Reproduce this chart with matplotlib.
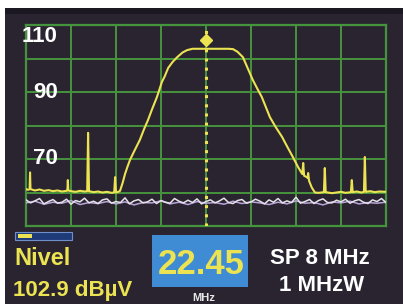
import matplotlib
matplotlib.use("Agg")
import matplotlib.pyplot as plt
from matplotlib.patches import Rectangle

# ---------------- data ----------------
span_mhz = 8
center_label = "22.45"
level_label = "102.9 dBµV"
y_tick_values = [110, 90, 70]

# yellow (measured) trace: frequency offset from centre (MHz) and level (dBµV)
yellow_f = [-4.00, -3.95, -3.92, -3.91, -3.90, -3.80, -3.70, -3.60, -3.50, -3.40,
            -3.30, -3.20, -3.10, -3.08, -3.07, -3.06, -3.00, -2.90, -2.80, -2.70,
            -2.64, -2.62, -2.60, -2.50, -2.40, -2.30, -2.20, -2.10, -2.04, -2.02,
            -2.00, -1.95, -1.91, -1.85, -1.80, -1.75, -1.69, -1.60, -1.47, -1.38,
            -1.29, -1.20, -1.09, -0.98, -0.92, -0.84, -0.74, -0.64, -0.52, -0.42,
            -0.30, 0.00, 0.50, 0.60, 0.70, 0.82, 0.93, 1.04, 1.14, 1.24,
            1.33, 1.42, 1.55, 1.69, 1.80, 1.93, 2.05, 2.14, 2.16, 2.18,
            2.24, 2.26, 2.27, 2.29, 2.35, 2.42, 2.50, 2.62, 2.64, 2.66,
            2.80, 2.90, 3.00, 3.10, 3.22, 3.24, 3.26, 3.35, 3.45, 3.51,
            3.53, 3.55, 3.65, 3.75, 3.85, 4.00]
yellow_l = [61.0, 60.8, 61.0, 66.0, 61.0, 60.6, 60.9, 60.5, 60.7, 60.4,
            60.6, 60.3, 60.5, 60.6, 63.7, 60.6, 60.4, 60.2, 60.5, 60.3,
            60.4, 77.8, 60.4, 60.1, 60.3, 60.0, 60.2, 59.9, 60.0, 64.6,
            60.0, 60.2, 60.5, 63.0, 65.5, 67.5, 69.7, 72.2, 75.7, 78.8,
            81.6, 84.8, 88.5, 93.0, 94.6, 97.2, 99.0, 100.4, 101.8, 102.5,
            102.9, 102.9, 102.9, 102.8, 102.0, 100.4, 97.0, 93.6, 91.0, 88.5,
            85.5, 82.5, 79.5, 76.6, 73.8, 70.6, 67.5, 65.5, 68.8, 65.0,
            64.6, 64.3, 65.8, 63.5, 61.5, 60.0, 59.9, 60.1, 67.3, 60.1,
            59.8, 60.0, 60.2, 59.9, 60.1, 63.7, 60.1, 60.3, 60.0, 60.2,
            70.6, 60.2, 60.4, 60.1, 60.3, 60.2]

# white (noise-floor) trace, 0.1 MHz steps from -4 to +4
white_l = [57.8, 56.9, 57.5, 58.2, 56.6, 57.3, 57.9, 56.8, 57.1, 58.0,
           56.5, 57.6, 57.2, 58.3, 56.9, 57.4, 56.7, 57.8, 58.1, 56.8,
           57.3, 57.0, 58.4, 56.6, 57.5, 57.9, 56.9, 57.2, 58.0, 56.7,
           57.6, 57.1, 56.8, 58.2, 57.4, 56.9, 57.7, 57.0, 58.1, 56.6,
           57.3, 57.8, 56.9, 57.5, 58.3, 57.0, 56.7, 57.6, 57.9, 56.8,
           57.2, 58.0, 57.4, 56.6, 57.8, 57.1, 58.2, 56.9, 57.5, 57.0,
           58.6, 56.8, 57.3, 57.9, 56.7, 57.6, 58.1, 57.0, 56.9, 57.7,
           57.2, 58.0, 56.8, 57.5, 57.9, 57.1, 56.7, 57.8, 57.3, 58.2, 57.0]
white_f = [-4 + 0.1 * i for i in range(len(white_l))]

# lavender trace, 0.2 MHz steps
purple_l = [56.9, 57.4, 56.5, 57.1, 56.8, 57.6, 56.4, 57.0, 56.7, 57.3,
            56.6, 57.2, 56.3, 57.0, 56.9, 57.5, 56.6, 57.1, 56.4, 57.3,
            56.8, 57.0, 56.5, 57.4, 56.7, 57.2, 56.9, 56.4, 57.1, 56.6,
            57.5, 56.8, 57.0, 56.3, 57.2, 56.9, 57.4, 56.6, 57.0, 56.8, 57.1]
purple_f = [-4 + 0.2 * i for i in range(len(purple_l))]

marker_f = 0.0
marker_l = 105.5

# ---------------- styling ----------------
W, H = 403, 304
BG = "#2a2430"
GRID = "#46933e"
YEL = "#ebe352"

fig = plt.figure(figsize=(W / 100, H / 100), dpi=100, facecolor="white")

bg = fig.add_axes([0, 0, 1, 1])
bg.set_xlim(0, W)
bg.set_ylim(H, 0)
bg.axis("off")
bg.add_patch(Rectangle((5, 8), W - 5, H - 8, facecolor=BG, edgecolor="none"))
bg.add_patch(Rectangle((5, 8), W - 5, 6, facecolor="#1c1822", edgecolor="none"))

# chart area
L, R, T, B = 26, 386, 25, 226
ax = fig.add_axes([L / W, 1 - B / H, (R - L) / W, (B - T) / H])
ax.set_facecolor(BG)
ax.set_xlim(-span_mhz / 2, span_mhz / 2)
ax.set_ylim(50, 110)
ax.set_xticks(range(-4, 5))
ax.set_yticks(range(50, 111, 10))
ax.grid(True, color=GRID, linewidth=1.4)
ax.tick_params(length=0, labelbottom=False, labelleft=False)
for s in ax.spines.values():
    s.set_color(GRID)
    s.set_linewidth(1.6)

ax.plot(purple_f, purple_l, color="#b7a4d8", linewidth=1.1, zorder=3)
ax.plot(white_f, white_l, color="#e6e2ea", linewidth=1.1, zorder=3)
ax.plot(yellow_f, yellow_l, color=YEL, linewidth=1.5, zorder=4)
ax.axvline(marker_f, color=YEL, linestyle=(0, (1.0, 2.0)), linewidth=2.2, zorder=5)
ax.plot([marker_f], [marker_l], marker="D", color=YEL, markersize=6, zorder=6)

FONT = ["Liberation Sans", "DejaVu Sans"]
ylab_pos = {110: 106.5, 90: 90, 70: 70}
for v in y_tick_values:
    ax.text(-3.3, ylab_pos[v], str(v), color="white", fontsize=16, fontweight="bold",
            family=FONT, ha="right", va="center", zorder=7)

# bottom panel
bg.add_patch(Rectangle((15, 232), 57, 8, facecolor="#1f3a78", edgecolor="#6f8fc8", linewidth=0.8))
bg.add_patch(Rectangle((18, 234), 14, 4, facecolor=YEL, edgecolor="none"))
bg.text(14, 265, "Nivel", color=YEL, fontsize=17, fontweight="bold", family=FONT,
        ha="left", va="baseline")
bg.text(13, 296, level_label, color=YEL, fontsize=16, fontweight="bold", family=FONT,
        ha="left", va="baseline")

bg.add_patch(Rectangle((152, 235), 96, 52, facecolor="#3f8bd4", edgecolor="none"))
bg.text(201, 274, center_label, color=YEL, fontsize=25, fontweight="bold", family=FONT,
        ha="center", va="baseline")
bg.text(204, 301, "MHz", color="#e8e8e8", fontsize=8, fontweight="bold", family=FONT,
        ha="center", va="baseline")

bg.text(320, 264, "SP 8 MHz", color="white", fontsize=16, fontweight="bold", family=FONT,
        ha="center", va="baseline")
bg.text(322, 291, "1 MHzW", color="white", fontsize=16, fontweight="bold", family=FONT,
        ha="center", va="baseline")

fig.savefig("out.png", dpi=100, facecolor="white")
